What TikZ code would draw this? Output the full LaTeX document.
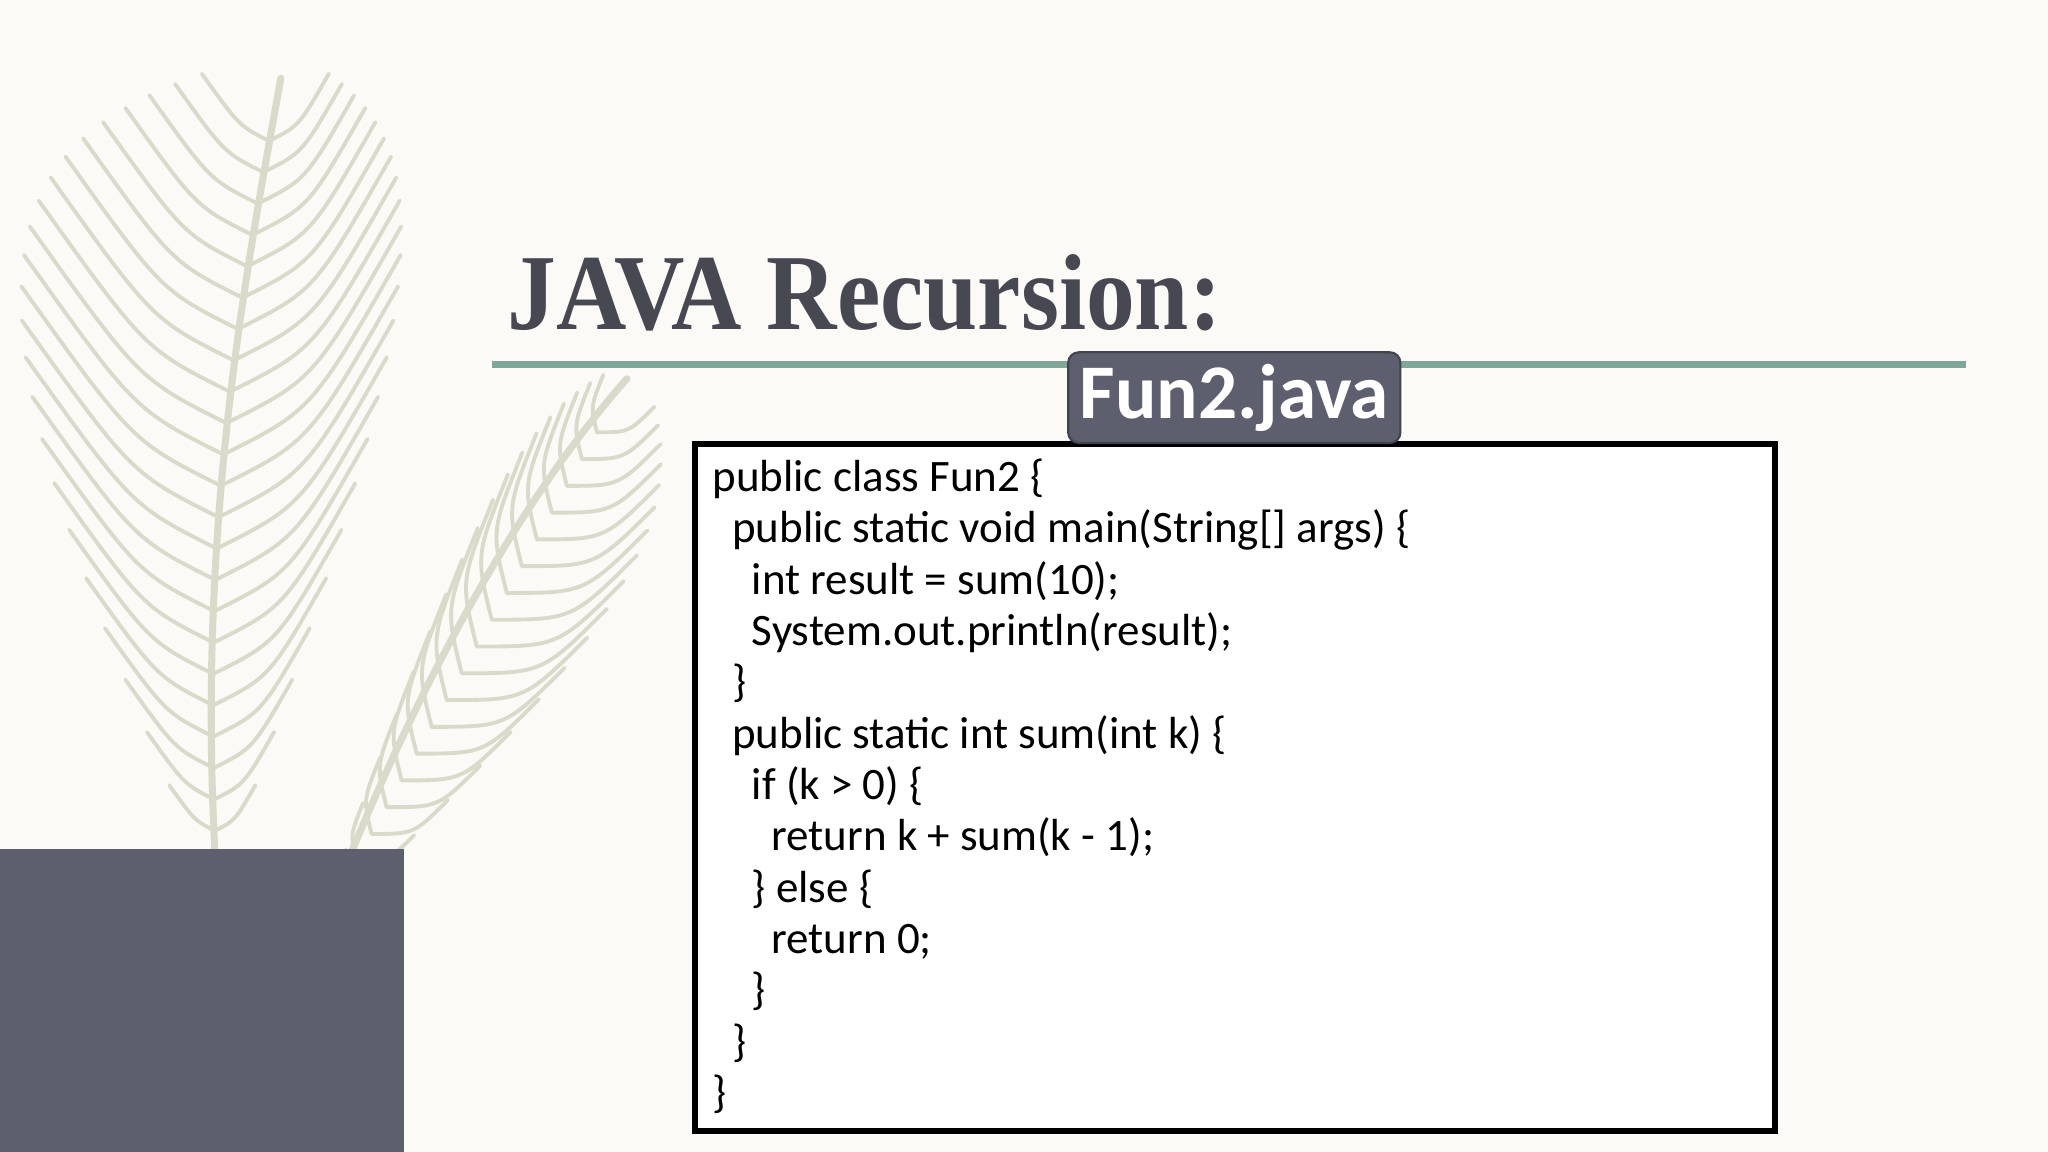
\documentclass[tikz,border=0pt]{standalone}
\usepackage{fontspec}
\setmainfont{Carlito}
\newfontfamily\titlefont{Liberation Serif}
\definecolor{bg}{HTML}{FBFAF7}
\definecolor{slate}{HTML}{5D5F6E}
\definecolor{titlegray}{HTML}{474852}
\definecolor{rule}{HTML}{7FA89A}
\definecolor{feather}{HTML}{DADACA}
\tikzset{
  codebox/.style={draw=black,line width=1.6pt,fill=white},
  tabbox/.style={draw=slate!70!black,fill=slate,rounded corners=3pt,line width=0.6pt},
  frond/.style={draw=feather,line width=1.1pt,line cap=round},
}
\newcommand{\ind}[1]{\hspace*{#1\dimexpr 5.6pt\relax}}
\begin{document}
\begin{tikzpicture}[x=0.01306cm,y=-0.01306cm]
\useasboundingbox (0,0) rectangle (1568,882);
\fill[bg] (0,0) rectangle (1568,882);
% feathers
\draw[frond,line width=2pt] (165,660) .. controls (150,400) and (190,200) .. (215,60);
\foreach \t in {0.04,0.08,...,0.96}{
  \pgfmathsetmacro{\sx}{165+(215-165)*\t - 20*sin(180*\t)}
  \pgfmathsetmacro{\sy}{660-600*\t}
  \pgfmathsetmacro{\len}{150*sin(180*\t)+20}
  \draw[frond] (\sx,\sy) .. controls (\sx-0.4*\len,\sy-0.2*\len) .. (\sx-0.9*\len,\sy-0.9*\len);
  \draw[frond] (\sx,\sy) .. controls (\sx+0.4*\len,\sy-0.2*\len) .. (\sx+0.8*\len,\sy-0.9*\len);
}
\draw[frond,line width=2pt] (250,700) .. controls (320,520) and (400,380) .. (480,290);
\foreach \t in {0.05,0.1,...,0.95}{
  \pgfmathsetmacro{\sx}{250+230*\t}
  \pgfmathsetmacro{\sy}{700-410*\t}
  \pgfmathsetmacro{\len}{110*sin(180*\t)+15}
  \draw[frond] (\sx,\sy) .. controls (\sx-0.1*\len,\sy-0.4*\len) .. (\sx+0.1*\len,\sy-0.9*\len);
  \draw[frond] (\sx,\sy) .. controls (\sx+0.5*\len,\sy) .. (\sx+0.9*\len,\sy-0.4*\len);
}
% dark block
\fill[slate] (0,650) rectangle (309,882);
% title
\node[anchor=south west,inner sep=0pt,text=titlegray] (title) at (388,254)
  {\resizebox{7.14cm}{0.75cm}{\titlefont\bfseries JAVA Recursion:}};
\draw[rule,line width=2.2pt] (377,279) coordinate (r1) -- (1505,279) coordinate (r2);
% code box
\draw[codebox] (532,340) rectangle (1359,866);
\node[tabbox,minimum width=250*0.01306cm,minimum height=54*0.01306cm,anchor=south] (tab) at (945,340)
  {\color{white}\fontsize{22pt}{24pt}\selectfont\bfseries Fun2.java};
\node[anchor=north west,align=left,inner sep=0pt,font=\fontsize{12.8pt}{14.6pt}\selectfont] (code) at (545,351) {%
public class Fun2 \{\\
\ind{1}public static void main(String[] args) \{\\
\ind{2}int result = sum(10);\\
\ind{2}System.out.println(result);\\
\ind{1}\}\\
\ind{1}public static int sum(int k) \{\\
\ind{2}if (k > 0) \{\\
\ind{3}return k + sum(k - 1);\\
\ind{2}\} else \{\\
\ind{3}return 0;\\
\ind{2}\}\\
\ind{1}\}\\
\}};
\end{tikzpicture}
\end{document}
